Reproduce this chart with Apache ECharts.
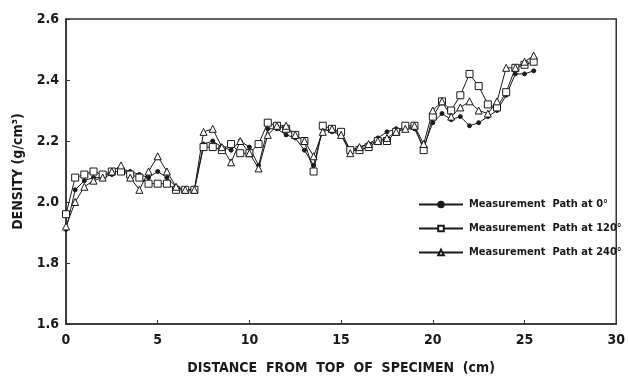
<!DOCTYPE html>
<html>
<head>
<meta charset="utf-8">
<script src="https://cdn.jsdelivr.net/npm/echarts/dist/echarts.min.js"></script>
<style>
  html, body { margin: 0; padding: 0; background: #fff; }
  #chart { width: 628px; height: 381px; }
</style>
</head>
<body>
<div id="chart"></div>
<script>
// Distance from the top of the specimen (cm) at each measurement station
const distanceCm = [
  0, 0.5, 1, 1.5, 2, 2.5, 3, 3.5, 4, 4.5, 5, 5.5, 6, 6.5, 7, 7.5, 8, 8.5, 9, 9.5,
  10, 10.5, 11, 11.5, 12, 12.5, 13, 13.5, 14, 14.5, 15, 15.5, 16, 16.5, 17, 17.5,
  18, 18.5, 19, 19.5, 20, 20.5, 21, 21.5, 22, 22.5, 23, 23.5, 24, 24.5, 25, 25.5
];

// Density (g/cm3) along each measurement path
const density0 = [
  1.91, 2.04, 2.07, 2.08, 2.08, 2.09, 2.11, 2.10, 2.09, 2.08, 2.10, 2.08, 2.05, 2.04, 2.04, 2.19, 2.20, 2.18, 2.17, 2.20,
  2.18, 2.12, 2.24, 2.24, 2.22, 2.21, 2.17, 2.12, 2.24, 2.23, 2.22, 2.17, 2.18, 2.19, 2.21, 2.23,
  2.24, 2.24, 2.24, 2.18, 2.26, 2.29, 2.27, 2.28, 2.25, 2.26, 2.28, 2.30, 2.35, 2.42, 2.42, 2.43
];
const density120 = [
  1.96, 2.08, 2.09, 2.10, 2.09, 2.10, 2.10, 2.09, 2.08, 2.06, 2.06, 2.06, 2.04, 2.04, 2.04, 2.18, 2.18, 2.17, 2.19, 2.16,
  2.16, 2.19, 2.26, 2.25, 2.24, 2.22, 2.20, 2.10, 2.25, 2.24, 2.23, 2.17, 2.17, 2.18, 2.20, 2.20,
  2.23, 2.25, 2.25, 2.17, 2.28, 2.33, 2.30, 2.35, 2.42, 2.38, 2.32, 2.31, 2.36, 2.44, 2.45, 2.46
];
const density240 = [
  1.92, 2.00, 2.05, 2.07, 2.08, 2.10, 2.12, 2.08, 2.04, 2.10, 2.15, 2.10, 2.05, 2.04, 2.04, 2.23, 2.24, 2.18, 2.13, 2.20,
  2.16, 2.11, 2.22, 2.25, 2.25, 2.22, 2.20, 2.15, 2.23, 2.24, 2.22, 2.16, 2.18, 2.19, 2.20, 2.21,
  2.23, 2.24, 2.25, 2.19, 2.30, 2.33, 2.28, 2.31, 2.33, 2.30, 2.29, 2.33, 2.44, 2.44, 2.46, 2.48
];

const seriesNames = [
  'Measurement  Path at 0°',
  'Measurement  Path at 120°',
  'Measurement  Path at 240°'
];
const xTicks = [0, 5, 10, 15, 20, 25, 30];
const yTicks = [1.6, 1.8, 2.0, 2.2, 2.4, 2.6];

const FONT = '"DejaVu Sans Condensed", "Liberation Sans Narrow", "Roboto Condensed", sans-serif';
const INK = '#1a1a1a';

function pairs(values) {
  return distanceCm.map((d, i) => [d, values[i]]);
}

function makeSeries(name, values, symbol, size, filled) {
  return {
    name: name,
    type: 'line',
    data: pairs(values),
    symbol: symbol,
    symbolSize: size,
    showAllSymbol: true,
    lineStyle: { color: INK, width: 1 },
    itemStyle: {
      color: filled ? INK : '#ffffff',
      borderColor: INK,
      borderWidth: 1
    },
    emphasis: { disabled: true },
    animation: false
  };
}

const chart = echarts.init(document.getElementById('chart'), null, { renderer: 'canvas' });

chart.setOption({
  backgroundColor: '#ffffff',
  animation: false,
  grid: {
    left: 66, right: 6, top: 19, bottom: 57,
    show: true,
    borderColor: '#333',
    borderWidth: 1.5,
    backgroundColor: 'transparent'
  },
  xAxis: {
    type: 'value',
    min: xTicks[0],
    max: xTicks[xTicks.length - 1],
    interval: 5,
    name: 'DISTANCE  FROM  TOP  OF  SPECIMEN  (cm)',
    nameLocation: 'middle',
    nameGap: 37,
    nameTextStyle: { fontFamily: FONT, fontSize: 14, fontWeight: 'bold', color: INK },
    axisLine: { show: true, lineStyle: { color: '#333', width: 1.5 } },
    axisTick: { show: true, inside: true, length: 4, lineStyle: { color: '#333' } },
    axisLabel: { fontFamily: FONT, fontSize: 14, fontWeight: 'bold', color: INK, margin: 9 },
    splitLine: { show: false }
  },
  yAxis: {
    type: 'value',
    min: yTicks[0],
    max: yTicks[yTicks.length - 1],
    interval: 0.2,
    name: 'DENSITY (g/cm³)',
    nameLocation: 'middle',
    nameGap: 27,
    nameRotate: 90,
    nameTextStyle: { fontFamily: FONT, fontSize: 14, fontWeight: 'bold', color: INK },
    axisLine: { show: true, lineStyle: { color: '#333', width: 1.5 } },
    axisTick: { show: true, inside: true, length: 4, lineStyle: { color: '#333' } },
    axisLabel: {
      fontFamily: FONT, fontSize: 14, fontWeight: 'bold', color: INK, margin: 7,
      formatter: v => v.toFixed(1)
    },
    splitLine: { show: false }
  },
  legend: {
    orient: 'vertical',
    left: 418,
    top: 199,
    padding: 0,
    itemWidth: 44,
    itemHeight: 7,
    itemGap: 13,
    data: seriesNames,
    textStyle: { fontFamily: FONT, fontSize: 11, fontWeight: 'bold', color: INK, padding: [0, 0, 0, 1] },
    selectedMode: false
  },
  series: [
    makeSeries(seriesNames[0], density0, 'circle', 4, true),
    makeSeries(seriesNames[1], density120, 'rect', 7, false),
    makeSeries(seriesNames[2], density240, 'triangle', 7, false)
  ]
});
</script>
</body>
</html>
